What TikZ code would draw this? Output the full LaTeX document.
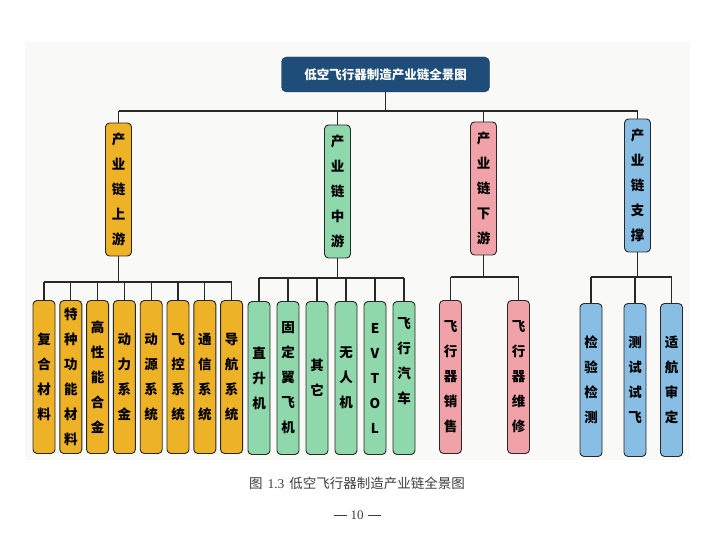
\documentclass[tikz,border=0pt]{standalone}
\usepackage{fontspec}
\newfontfamily\cjk{Noto Sans CJK SC}
\newfontfamily\numfont{Liberation Serif}
\usepackage{tikz}
\usetikzlibrary{positioning}

\definecolor{titleblue}{RGB}{31,77,121}
\definecolor{upgold}{RGB}{238,178,38}
\definecolor{midgreen}{RGB}{142,216,172}
\definecolor{downpink}{RGB}{240,162,168}
\definecolor{supblue}{RGB}{136,190,228}
\definecolor{linegray}{RGB}{40,40,40}
\definecolor{bggray}{RGB}{249,249,248}
\definecolor{captiongray}{RGB}{60,60,60}

\begin{document}
\begin{tikzpicture}[x=1pt, y=-1pt,
        stage/.style={draw=linegray, line width=0.9pt, rounded corners=4pt, minimum width=26pt, minimum height=133pt, inner sep=0pt, align=center, font=\cjk\bfseries\fontsize{13.5}{25}\selectfont},
        leaf/.style={stage, minimum width=22pt, minimum height=153pt},
        conn/.style={draw=linegray, line width=1.2pt}]
        \useasboundingbox (0,0) rectangle (723,556);
        \fill[bggray] (25,42) rectangle (690,460);

        \node[draw=titleblue!70!black, fill=titleblue, rounded corners=5pt, minimum width=208pt, minimum height=35pt, text=white, font=\cjk\bfseries\fontsize{12.5}{15}\selectfont] (title) at (385.5,74.5) {低空飞行器制造产业链全景图};

        \node[stage, fill=upgold] (up) at (118.5,189.5) {产\\业\\链\\上\\游};
        \node[stage, fill=midgreen] (mid) at (337.5,191.5) {产\\业\\链\\中\\游};
        \node[stage, fill=downpink] (down) at (483.5,188.5) {产\\业\\链\\下\\游};
        \node[stage, fill=supblue] (sup) at (637.5,185.5) {产\\业\\链\\支\\撑};

        \node[leaf, fill=upgold] (u1) at (44,377) {复\\合\\材\\料};
        \node[leaf, fill=upgold, right of=u1, node distance=26.8pt] (u2) {特\\种\\功\\能\\材\\料};
        \node[leaf, fill=upgold, right of=u2, node distance=26.8pt] (u3) {高\\性\\能\\合\\金};
        \node[leaf, fill=upgold, right of=u3, node distance=26.8pt] (u4) {动\\力\\系\\金};
        \node[leaf, fill=upgold, right of=u4, node distance=26.8pt] (u5) {动\\源\\系\\统};
        \node[leaf, fill=upgold, right of=u5, node distance=26.8pt] (u6) {飞\\控\\系\\统};
        \node[leaf, fill=upgold, right of=u6, node distance=26.8pt] (u7) {通\\信\\系\\统};
        \node[leaf, fill=upgold, right of=u7, node distance=26.8pt] (u8) {导\\航\\系\\统};

        \node[leaf, fill=midgreen] (m1) at (259,378) {直\\升\\机};
        \node[leaf, fill=midgreen, right of=m1, node distance=29pt] (m2) {固\\定\\翼\\飞\\机};
        \node[leaf, fill=midgreen, right of=m2, node distance=29pt] (m3) {其\\它};
        \node[leaf, fill=midgreen, right of=m3, node distance=29pt] (m4) {无\\人\\机};
        \node[leaf, fill=midgreen, right of=m4, node distance=29pt] (m5) {E\\V\\T\\O\\L};
        \node[leaf, fill=midgreen, right of=m5, node distance=29pt] (m6) {飞\\行\\汽\\车\\[10pt]\mbox{}};

        \node[leaf, fill=downpink] (d1) at (450.5,377) {飞\\行\\器\\销\\售};
        \node[leaf, fill=downpink, right of=d1, node distance=68pt] (d2) {飞\\行\\器\\维\\修};

        \node[leaf, fill=supblue] (s1) at (591,380) {检\\验\\检\\测};
        \node[leaf, fill=supblue, right of=s1, node distance=44pt] (s2) {测\\试\\试\\飞};
        \node[leaf, fill=supblue, right of=s2, node distance=36.5pt] (s3) {适\\航\\审\\定};

        % buses
        \coordinate (topbus) at (0,111);
        \coordinate (upbus) at (0,282);
        \coordinate (midbus) at (0,278);
        \coordinate (downbus) at (0,277);
        \coordinate (supbus) at (0,277);

        \draw[conn] (title.south) -- (title.south |- topbus);
        \draw[conn] (up.north |- topbus) -- (sup.north |- topbus);
        \foreach \n in {up,mid,down,sup}
            \draw[conn] (\n.north) -- (\n.north |- topbus);

        \draw[conn] (up.south) -- (up.south |- upbus);
        \draw[conn] (u1.north |- upbus) -- (u8.north |- upbus);
        \foreach \n in {u1,u2,u3,u4,u5,u6,u7,u8}
            \draw[conn] (\n.north) -- (\n.north |- upbus);

        \draw[conn] (mid.south) -- (mid.south |- midbus);
        \draw[conn] (m1.north |- midbus) -- (m6.north |- midbus);
        \foreach \n in {m1,m2,m3,m4,m5,m6}
            \draw[conn] (\n.north) -- (\n.north |- midbus);

        \draw[conn] (down.south) -- (down.south |- downbus);
        \draw[conn] (d1.north |- downbus) -- (d2.north |- downbus);
        \foreach \n in {d1,d2}
            \draw[conn] (\n.north) -- (\n.north |- downbus);

        \draw[conn] (sup.south) -- (sup.south |- supbus);
        \draw[conn] (s1.north |- supbus) -- (s3.north |- supbus);
        \foreach \n in {s1,s2,s3}
            \draw[conn] (\n.north) -- (\n.north |- supbus);

        \node[text=captiongray, font=\cjk\fontsize{13.5}{16}\selectfont] (caption) at (357,483) {图\hspace{5pt}{\numfont 1.3}\hspace{5pt}低空飞行器制造产业链全景图};
        \node[text=captiongray, font=\numfont\fontsize{13}{15}\selectfont] (pagenum) at (357,515) {\rule[3.5pt]{13pt}{0.9pt}\hspace{4pt}10\hspace{4pt}\rule[3.5pt]{13pt}{0.9pt}};
\end{tikzpicture}
\end{document}
